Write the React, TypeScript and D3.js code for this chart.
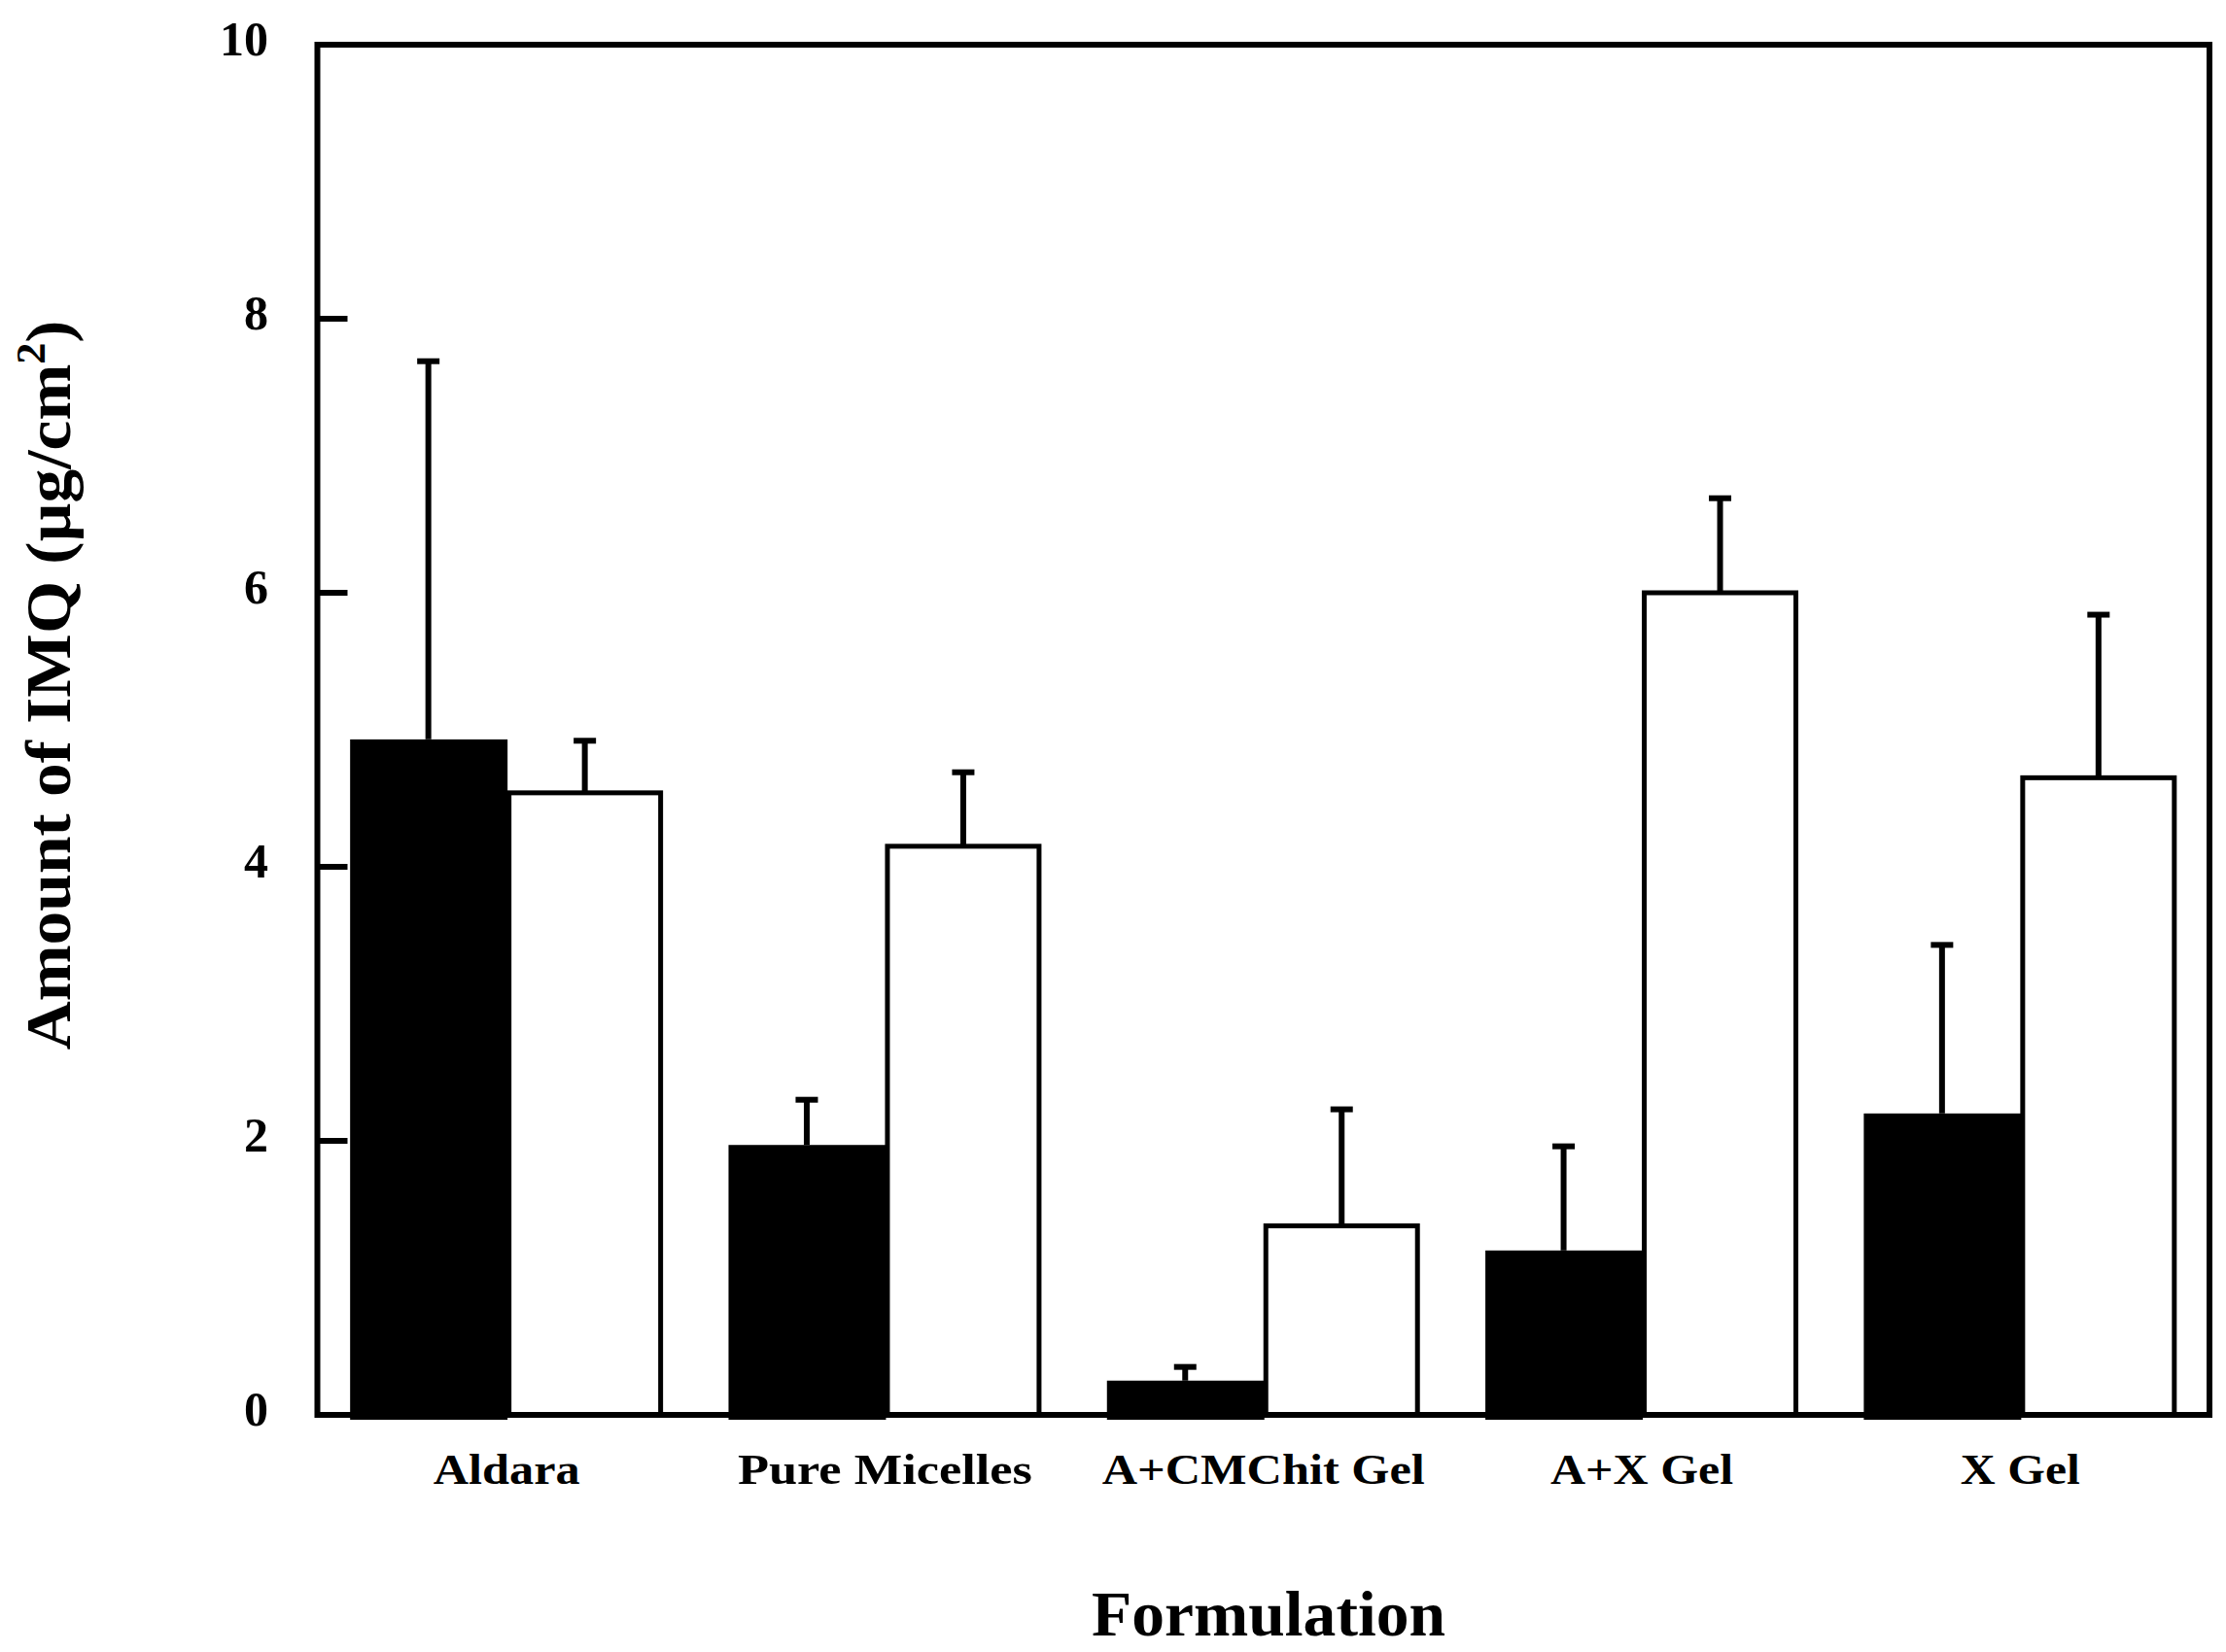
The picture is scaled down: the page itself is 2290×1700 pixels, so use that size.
import React from "react";
import * as d3 from "d3";

const categories = ["Aldara", "Pure Micelles", "A+CMChit Gel", "A+X Gel", "X Gel"];
const seriesNames = ["filled", "open"];
const filledValues = [4.93, 1.97, 0.25, 1.2, 2.2];
const filledErrors = [2.76, 0.33, 0.1, 0.76, 1.23];
const openValues = [4.54, 4.15, 1.38, 6.0, 4.65];
const openErrors = [0.38, 0.54, 0.85, 0.69, 1.19];
const yTicks = [0, 2, 4, 6, 8, 10];
const labelWidths = [151, 303, 332, 188, 123];

const W = 2290;
const H = 1700;
const left = 326.5;
const right = 2273;
const top = 46;
const bottom = 1456;
const FONT = "'Liberation Serif', 'Times New Roman', serif";

export default function App() {
  const x = d3
    .scaleBand<string>()
    .domain(categories)
    .range([left, right])
    .paddingInner(0.173)
    .paddingOuter(0.0865);
  const xs = d3.scaleBand<string>().domain(seriesNames).range([0, x.bandwidth()]);
  const y = d3.scaleLinear().domain([0, 10]).range([bottom, top]);
  const bw = xs.bandwidth();
  const capW = 23;
  const sw = 6;

  return (
    <svg
      width={W}
      height={H}
      style={{ position: "absolute", left: 0, top: 0, background: "#fff" }}
      fontFamily={FONT}
    >
      <rect x={0} y={0} width={W} height={H} fill="#fff" />
      {/* bars */}
      {categories.map((c, i) => {
        const x0 = x(c)!;
        const fx = x0 + xs("filled")!;
        const ox = x0 + xs("open")!;
        const fTop = y(filledValues[i]);
        const oTop = y(openValues[i]);
        const fErr = y(filledValues[i] + filledErrors[i]);
        const oErr = y(openValues[i] + openErrors[i]);
        const fc = fx + bw / 2;
        const oc = ox + bw / 2;
        return (
          <g key={c}>
            <rect
              x={ox + 2.5}
              y={oTop}
              width={bw - 5}
              height={y(0) - oTop}
              fill="#fff"
              stroke="#000"
              strokeWidth={5}
            />
            <line x1={oc} x2={oc} y1={oTop} y2={oErr} stroke="#000" strokeWidth={sw} />
            <line x1={oc - capW / 2} x2={oc + capW / 2} y1={oErr} y2={oErr} stroke="#000" strokeWidth={sw} />
            <rect x={fx} y={fTop} width={bw + 1} height={y(0) - fTop + 5} fill="#000" />
            <line x1={fc} x2={fc} y1={fTop} y2={fErr} stroke="#000" strokeWidth={sw} />
            <line x1={fc - capW / 2} x2={fc + capW / 2} y1={fErr} y2={fErr} stroke="#000" strokeWidth={sw} />
          </g>
        );
      })}
      {/* frame */}
      <rect
        x={left}
        y={top}
        width={right - left}
        height={bottom - top}
        fill="none"
        stroke="#000"
        strokeWidth={6}
      />
      {/* y ticks */}
      {yTicks.map((t) => (
        <g key={t}>
          <line x1={left} x2={left + 31} y1={y(t)} y2={y(t)} stroke="#000" strokeWidth={6} />
          <text
            x={276}
            y={y(t) + 11}
            textAnchor="end"
            fontSize={50}
            fontWeight={700}
            fill="#000"
          >
            {t}
          </text>
        </g>
      ))}
      {/* x category labels */}
      {categories.map((c, i) => (
        <text
          key={c}
          x={x(c)! + x.bandwidth() / 2}
          y={1527}
          textAnchor="middle"
          fontSize={45}
          fontWeight={700}
          fill="#000"
          textLength={labelWidths[i]}
          lengthAdjust="spacingAndGlyphs"
        >
          {c}
        </text>
      ))}
      {/* axis titles */}
      <text
        x={1305}
        y={1683}
        textAnchor="middle"
        fontSize={66}
        fontWeight={700}
        fill="#000"
        textLength={364}
        lengthAdjust="spacingAndGlyphs"
      >
        Formulation
      </text>
      <text
        transform="translate(72,705) rotate(-90)"
        textAnchor="middle"
        fontSize={66}
        fontWeight={700}
        fill="#000"
        textLength={751}
        lengthAdjust="spacingAndGlyphs"
      >
        Amount of IMQ (µg/cm
        <tspan fontSize={42} dy={-26}>
          2
        </tspan>
        <tspan dy={26}>)</tspan>
      </text>
    </svg>
  );
}
